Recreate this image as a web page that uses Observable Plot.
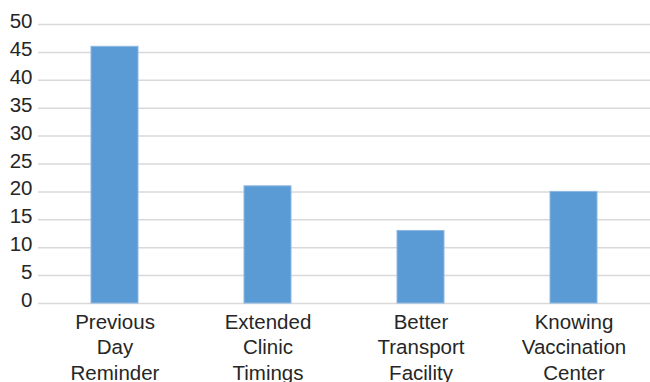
<!DOCTYPE html>
<html>
<head>
<meta charset="utf-8">
<script src="https://cdn.jsdelivr.net/npm/d3@7"></script>
<script src="https://cdn.jsdelivr.net/npm/@observablehq/plot@0.6"></script>
<style>
  html, body { margin: 0; padding: 0; background: #fff; overflow: hidden; }
  svg { display: block; }
</style>
</head>
<body>
<div id="chart"></div>
<script>
const categories = ["Previous\nDay\nReminder", "Extended\nClinic\nTimings", "Better\nTransport\nFacility", "Knowing\nVaccination\nCenter"];
const values = [46, 21, 13, 20];
const yTicks = [0, 5, 10, 15, 20, 25, 30, 35, 40, 45, 50];

const data = categories.map((c, i) => ({category: c, value: values[i]}));

const chart = Plot.plot({
  width: 650,
  height: 382,
  marginTop: 24,
  marginBottom: 79,
  marginLeft: 38,
  marginRight: 0,
  style: {fontFamily: "Liberation Sans, Arial, sans-serif", fontSize: "20.5px", color: "#262626", background: "#fff"},
  x: {domain: categories, paddingInner: 0.693, paddingOuter: 0.3465, label: null},
  y: {domain: [0, 50], label: null},
  marks: [
    Plot.ruleY(yTicks, {stroke: "#d9d9d9", strokeWidth: 1.5}),
    Plot.barY(data, {x: "category", y: "value", fill: "#5b9bd5", stroke: "#8db8e3", strokeWidth: 1}),
    Plot.axisY(yTicks, {tickSize: 0, tickPadding: 6, dy: -3, label: null, fontSize: 20.5, fill: "#262626"}),
    Plot.axisX({tickSize: 0, tickPadding: 7, label: null, fontSize: 20.5, lineHeight: 1.244, fill: "#262626"})
  ]
});
document.getElementById("chart").appendChild(chart);
</script>
</body>
</html>
